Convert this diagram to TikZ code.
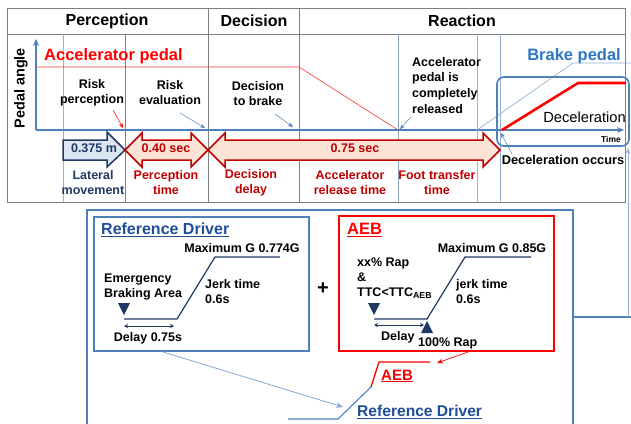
\documentclass[tikz,border=0pt]{standalone}
\usepackage{fontspec}
\setmainfont{Liberation Sans}
\usetikzlibrary{arrows.meta}
\definecolor{axisblue}{HTML}{4F81BD}
\definecolor{lightblue}{HTML}{95B3D7}
\definecolor{navy}{HTML}{1F3864}
\definecolor{darkred}{HTML}{C00000}
\definecolor{brightred}{HTML}{FF0000}
\definecolor{brakeblue}{HTML}{2E75C4}
\definecolor{titleblue}{HTML}{1F4E9A}
\definecolor{gridgray}{HTML}{7F7F7F}
\definecolor{peach}{HTML}{FBE3D6}
\definecolor{paleblue}{HTML}{DCE6F2}
\tikzset{
  hdr/.style={font=\fontsize{16}{18}\bfseries\selectfont},
  lbl/.style={font=\fontsize{12.5}{15}\bfseries\selectfont, align=center, inner sep=0pt},
  lbll/.style={font=\fontsize{12.5}{15}\bfseries\selectfont, align=left, inner sep=0pt},
  redlbl/.style={lbl, text=darkred},
  grid/.style={draw=gridgray, line width=0.9pt},
  bgrid/.style={draw=lightblue, line width=0.7pt},
  smallarr/.style={-{Stealth[length=5pt,width=4pt]}, line width=0.5pt},
  curveline/.style={draw=navy, line width=1.2pt},
  dblarr/.style={{Stealth[length=4pt,width=4pt]}-{Stealth[length=4pt,width=4pt]}, navy, line width=0.8pt},
}
\begin{document}
\begin{tikzpicture}[x=1pt,y=-1pt]
\useasboundingbox (0,0) rectangle (631,423);
\clip (0,0) rectangle (631,423);
\fill[white] (0,0) rectangle (631,423);

% ---------- top table ----------
\draw[grid] (7,8) rectangle (625,202);
\draw[grid] (7,34) -- (625,34);
\draw[grid] (208,8) -- (208,202);
\draw[grid] (299,8) -- (299,202);
\draw[grid] (125,34) -- (125,202);
\draw[draw=lightblue!70!gridgray, line width=0.8pt] (398,34) -- (398,202);
\draw[bgrid] (63,34) -- (63,202);
\draw[bgrid] (477,34) -- (477,202);
\draw[bgrid] (500,34) -- (500,202);

\node[hdr] (hperc) at (107,21) {Perception};
\node[hdr] (hdec) at (254,21) {Decision};
\node[hdr] (hreac) at (462,21) {Reaction};

% ---------- axes ----------
\coordinate (orig) at (36,130);
\coordinate (ytop) at (36,39);
\coordinate (xend) at (624,130);
\draw[axisblue, line width=1.6pt, -{Stealth[length=7pt,width=6pt]}] (orig) -- (ytop);
\draw[axisblue, line width=1.6pt, -{Stealth[length=7pt,width=6pt]}] (orig) -- (xend);
\node[rotate=90, font=\fontsize{14.4}{16}\bfseries\selectfont] (pang) at (21,88) {Pedal angle};

% accelerator pedal line
\coordinate (ap1) at (36,67);
\coordinate (ap2) at (299,67);
\coordinate (ap3) at (398,130);
\draw[brightred!80, line width=0.6pt] (ap1) -- (ap2) -- (ap3);
\node[font=\fontsize{16.5}{18}\bfseries\selectfont, text=brightred, anchor=west, inner sep=0pt] (accp) at (44,56) {Accelerator pedal};

% labels in top area
\node[lbl] (riskp) at (92,93) {Risk\\perception};
\node[lbl] (riske) at (170,93) {Risk\\evaluation};
\node[lbl] (decb) at (258,94) {Decision\\to brake};
\node[lbll, anchor=north west, font=\fontsize{12.5}{15.6}\bfseries\selectfont] (acrel) at (412,57) {Accelerator\\pedal is\\completely\\released};
\coordinate (rp1) at (113,110); \coordinate (rp2) at (123,128);
\coordinate (re1) at (180,113); \coordinate (re2) at (205,128);
\coordinate (db1) at (275,114); \coordinate (db2) at (293,127);
\coordinate (ar1) at (411,117); \coordinate (ar2) at (400,129);
\draw[smallarr, brightred] (rp1) -- (rp2);
\draw[smallarr, axisblue] (re1) -- (re2);
\draw[smallarr, axisblue] (db1) -- (db2);
\draw[smallarr, axisblue] (ar1) -- (ar2);

% brake pedal
\node[font=\fontsize{16.5}{18}\bfseries\selectfont, text=brakeblue, anchor=east, inner sep=0pt] (bpedal) at (621,56) {Brake pedal};
\coordinate (bp1) at (477,130); \coordinate (bp2) at (573,63); \coordinate (bp3) at (631,63);
\draw[lightblue, line width=0.7pt] (bp1) -- (bp2) -- (bp3);
\draw[axisblue, line width=1.6pt, rounded corners=7pt] (497,77) rectangle (629,146);
\coordinate (dc1) at (502,130); \coordinate (dc2) at (578,83); \coordinate (dc3) at (626,83);
\draw[brightred, line width=2.6pt] (dc1) -- (dc2) -- (dc3);
\node[font=\fontsize{14.7}{16}\selectfont, anchor=east, inner sep=0pt] (decel) at (626,117) {Deceleration};
\node[font=\fontsize{8.5}{10}\bfseries\selectfont, inner sep=0pt] (time) at (611,139) {Time};
\node[font=\fontsize{12.8}{15}\bfseries\selectfont, inner sep=0pt] (docc) at (563,160) {Deceleration occurs};
\coordinate (do1) at (512,154); \coordinate (do2) at (501,133);
\draw[smallarr, axisblue] (do1) -- (do2);

% ---------- time arrows ----------
\draw[fill=paleblue, draw=navy, line width=1.5pt, line join=miter]
  (63,140) -- (107,140) -- (107,132) -- (125,150) -- (107,167) -- (107,160) -- (63,160) -- cycle;
\draw[fill=peach, draw=darkred, line width=1.5pt, line join=miter]
  (125,150) -- (142,133) -- (142,140) -- (191,140) -- (191,133) -- (208,150) -- (191,167) -- (191,160) -- (142,160) -- (142,167) -- cycle;
\draw[fill=peach, draw=darkred, line width=1.5pt, line join=miter]
  (208,150) -- (225,133) -- (225,140) -- (483,140) -- (483,133) -- (500,150) -- (483,167) -- (483,160) -- (225,160) -- (225,167) -- cycle;
\node[lbl, text=navy] (lat) at (94,148) {0.375 m};
\node[redlbl] (t40) at (166,148) {0.40 sec};
\node[redlbl] (t75) at (355,148) {0.75 sec};

\node[lbl, text=navy] (latm) at (93,183) {Lateral\\movement};
\node[redlbl] (pt) at (166,183) {Perception\\time};
\node[redlbl] (dd) at (251,183) {Decision\\delay};
\node[redlbl] (art) at (350,183) {Accelerator\\release time};
\node[redlbl] (ftt) at (437,183) {Foot transfer\\time};

% ---------- lower section ----------
\draw[axisblue, line width=1.6pt] (87,440) -- (87,210) -- (573,210) -- (573,440);
\coordinate (rc1) at (573,317); \coordinate (rc2) at (628,317); \coordinate (rc3) at (628,148);
\draw[axisblue, line width=1.6pt] (rc1) -- (631,317);
\draw[lightblue, line width=0.7pt, -{Stealth[length=6pt,width=5pt]}] (rc2) -- (rc3);

% Reference driver box
\draw[axisblue, line width=1.2pt] (94,217) rectangle (309,351);
\node[font=\fontsize{16}{18}\bfseries\selectfont, text=titleblue, anchor=west, inner sep=0pt] (rdtitle) at (101,230) {\underline{Reference Driver}};
\node[lbl] (rdmax) at (242,248) {Maximum G 0.774G};
\coordinate (r1) at (124,319); \coordinate (r2) at (177,319); \coordinate (r3) at (215,257); \coordinate (r4) at (280,257);
\draw[curveline] (r1) -- (r2) -- (r3) -- (r4);
\node[lbll, anchor=west] (rdeba) at (104,287) {Emergency\\Braking Area};
\fill[navy] (118,303) -- (130,303) -- (124,315) -- cycle;
\coordinate (rd1) at (124,326); \coordinate (rd2) at (174,326);
\draw[dblarr] (rd1) -- (rd2);
\node[lbl] (rddelay) at (148,338) {Delay 0.75s};
\node[lbll, anchor=west] (rdjerk) at (205,292) {Jerk time\\0.6s};

\node[font=\fontsize{20}{22}\bfseries\selectfont] (plus) at (323,289) {+};

% AEB box
\draw[brightred, line width=1.2pt] (339,216) rectangle (554,351);
\node[font=\fontsize{16.5}{18}\bfseries\selectfont, text=brightred, anchor=west, inner sep=0pt] (aebtitle) at (347,230) {\underline{AEB}};
\node[lbl] (aebmax) at (492,248) {Maximum G 0.85G};
\coordinate (a1) at (374,319); \coordinate (a2) at (427,319); \coordinate (a3) at (465,257); \coordinate (a4) at (531,257);
\draw[curveline] (a1) -- (a2) -- (a3) -- (a4);
\node[lbll, anchor=west] (aebcond) at (357,278) {xx\% Rap\\\&\\TTC<TTC\textsubscript{AEB}};
\fill[navy] (368,303) -- (380,303) -- (374,315) -- cycle;
\fill[navy] (427,321) -- (433,333) -- (421,333) -- cycle;
\coordinate (ad1) at (374,325); \coordinate (ad2) at (424,325);
\draw[dblarr] (ad1) -- (ad2);
\node[lbll, anchor=west] (aebdelay) at (381,337) {Delay};
\node[lbll, anchor=west] (aeb100) at (418,343) {100\% Rap};
\node[lbll, anchor=west] (aebjerk) at (456,292) {jerk time\\0.6s};

% bottom summary
\coordinate (ba1) at (468,352); \coordinate (ba2) at (437,363);
\draw[brightred, line width=0.7pt, -{Stealth[length=6pt,width=5pt]}] (ba1) -- (ba2);
\coordinate (bc1) at (371,387); \coordinate (bc2) at (379,362); \coordinate (bc3) at (430,362);
\draw[brightred, line width=1.3pt] (bc1) -- (bc2) -- (bc3);
\node[font=\fontsize{15}{17}\bfseries\selectfont, text=brightred, anchor=west, inner sep=0pt] (aebbot) at (381,376) {\underline{AEB}};
\coordinate (bb1) at (288,419); \coordinate (bb2) at (338,419); \coordinate (bb3) at (371,387);
\draw[axisblue, line width=1.1pt] (bb1) -- (bb2) -- (bb3);
\coordinate (bl1) at (163,352); \coordinate (bl2) at (343,407);
\draw[lightblue!80!axisblue, line width=0.8pt, -{Stealth[length=7pt,width=6pt]}] (bl1) -- (bl2);
\node[font=\fontsize{15.6}{17}\bfseries\selectfont, text=titleblue, anchor=west, inner sep=0pt] (rdbot) at (357,412) {\underline{Reference Driver}};
\end{tikzpicture}
\end{document}
